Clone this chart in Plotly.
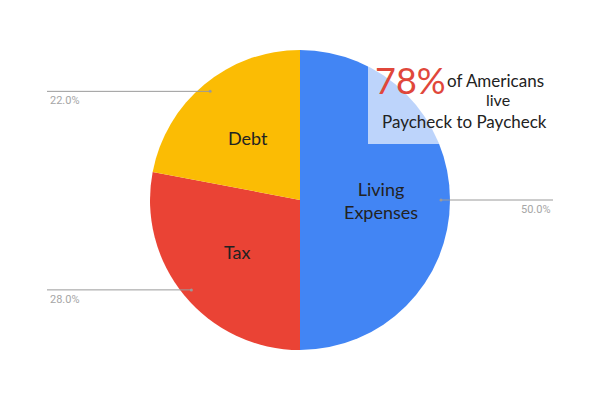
import numpy as np
import plotly.graph_objects as go

# slice data (clockwise from 12 o'clock)
labels = ["Living Expenses", "Tax", "Debt"]
inside_text = ["Living<br>Expenses", "Tax", "Debt"]
shares = [50.0, 28.0, 22.0]
colors = ["#4285F4", "#EA4335", "#FBBC04"]

W, H = 600, 400
OFF = 8  # page body margin of the browser
left, right, top, bottom = 0, 16, 42, 58
PW, PH = W - left - right, H - top - bottom
R = min(PW, PH) / 2
cx, cy = 300, 200  # pie centre in page pixels


def to_paper(px, py):
    return (px - OFF - left) / PW, (H - bottom - (py - OFF)) / PH


fig = go.Figure()
fig.add_trace(go.Pie(
    labels=labels,
    values=shares,
    textinfo="none",
    marker=dict(colors=colors),
    sort=False,
    direction="clockwise",
    rotation=0,
    hoverinfo="label+percent",
))

# slice names, leader lines and percentages from the slice midpoints
total = sum(shares)
cum = 0.0
for name, val in zip(inside_text, shares):
    mid = (cum + val / 2) / total * 2 * np.pi
    cum += val
    dx, dy = np.sin(mid), -np.cos(mid)

    tx, ty = to_paper(cx + 0.54 * R * dx, cy + 0.54 * R * dy)
    fig.add_annotation(x=tx, y=ty, xref="paper", yref="paper", text=name,
                       showarrow=False, xanchor="center", yanchor="middle",
                       font=dict(family="Lato", size=18, color="#222222"))

    px, py = cx + 0.94 * R * dx, cy + 0.94 * R * dy
    end_x = 553 if dx > 0 else 47
    x0, y0 = to_paper(px, py)
    x1, _ = to_paper(end_x, py)
    fig.add_shape(type="line", xref="paper", yref="paper",
                  x0=x0, y0=y0, x1=x1, y1=y0,
                  line=dict(color="#9a9a9a", width=1))
    fig.add_shape(type="circle", xref="paper", yref="paper",
                  x0=x0 - 1.5 / PW, x1=x0 + 1.5 / PW,
                  y0=y0 - 1.5 / PH, y1=y0 + 1.5 / PH,
                  fillcolor="#9a9a9a", line=dict(width=0))
    fig.add_annotation(x=x1, y=y0, xref="paper", yref="paper",
                       text=f"{val / total * 100:.1f}%", showarrow=False,
                       xanchor="right" if dx > 0 else "left", yanchor="top",
                       xshift=1 if dx < 0 else 0, yshift=-1,
                       font=dict(family="Roboto", size=11, color="#a6a6a6"))

# callout box
bx0, by0 = to_paper(368, 55)
bx1, by1 = to_paper(585, 144)
fig.add_shape(type="rect", xref="paper", yref="paper",
              x0=bx0, y0=by1, x1=bx1, y1=by0,
              fillcolor="rgba(255,255,255,0.65)", line=dict(width=0), layer="above")

callout = [
    ("78%", 373, 80, "left", 36, "#E0473B"),
    ("of Americans", 445, 80, "left", 17, "#222222"),
    ("live", 498, 99, "center", 16, "#222222"),
    ("Paycheck to Paycheck", 464, 121, "center", 17, "#222222"),
]
for txt, px, py, anchor, size, col in callout:
    ax, ay = to_paper(px, py)
    fig.add_annotation(x=ax, y=ay, xref="paper", yref="paper", text=txt,
                       showarrow=False, xanchor=anchor, yanchor="middle",
                       font=dict(family="Lato", size=size, color=col))

fig.update_layout(
    width=W, height=H,
    margin=dict(l=left, r=right, t=top, b=bottom),
    showlegend=False,
    paper_bgcolor="white",
    plot_bgcolor="white",
)
fig.write_html("out.html")
